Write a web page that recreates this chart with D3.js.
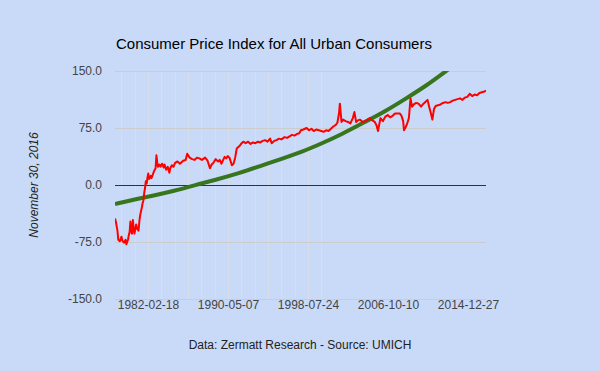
<!DOCTYPE html>
<html>
<head>
<meta charset="utf-8">
<script src="https://cdn.jsdelivr.net/npm/d3@7"></script>
<style>
  body { margin: 0; background: #c9daf8; }
  svg { display: block; font-family: Arial, "Liberation Sans", sans-serif; }
</style>
</head>
<body>
<div class="cpi_chart"></div>
<script>
//Red series: monthly index
var cpiDates = ["1978-10","1978-11","1979-01","1979-02","1979-04","1979-06","1979-07","1979-09","1979-11","1979-12",
  "1980-02","1980-03","1980-04","1980-05","1980-06","1980-07","1980-08","1980-09","1980-10","1980-12",
  "1981-01","1981-03","1981-04","1981-05","1981-07","1981-08","1981-09","1981-10","1981-11","1981-12",
  "1982-01","1982-02","1982-03","1982-04","1982-06","1982-07","1982-09","1982-10","1982-12","1983-01",
  "1983-02","1983-03","1983-05","1983-06","1983-08","1983-10","1983-11","1984-01","1984-03","1984-05",
  "1984-06","1984-08","1984-10","1984-12","1985-03","1985-06","1985-10","1986-01","1986-03","1986-06",
  "1986-09","1986-12","1987-03","1987-06","1987-09","1988-01","1988-04","1988-07","1988-09","1988-11",
  "1989-02","1989-05","1989-07","1989-09","1990-01","1990-03","1990-05","1990-07","1990-10","1990-12",
  "1991-02","1991-04","1991-06","1991-08","1991-10","1991-12","1992-03","1992-06","1992-09","1992-12",
  "1993-03","1993-06","1993-09","1993-12","1994-03","1994-06","1994-09","1994-11","1995-02","1995-05",
  "1995-08","1995-11","1996-03","1996-06","1996-09","1996-12","1997-03","1997-06","1997-09","1997-11",
  "1998-02","1998-06","1998-09","1998-12","1999-03","1999-06","1999-09","1999-12","2000-03","2000-06",
  "2000-09","2000-12","2001-03","2001-06","2001-08","2001-10","2001-11","2002-01","2002-03","2002-06",
  "2002-09","2002-12","2003-03","2003-05","2003-07","2003-09","2003-12","2004-03","2004-06","2004-09",
  "2004-12","2005-03","2005-06","2005-08","2005-10","2006-01","2006-04","2006-07","2006-10","2007-01",
  "2007-04","2007-07","2007-10","2008-01","2008-03","2008-05","2008-06","2008-08","2008-10","2008-12",
  "2009-02","2009-04","2009-06","2009-09","2009-12","2010-03","2010-06","2010-09","2010-11","2011-01",
  "2011-03","2011-05","2011-07","2011-09","2011-12","2012-03","2012-06","2012-09","2012-12","2013-03",
  "2013-06","2013-09","2013-12","2014-03","2014-06","2014-09","2014-12","2015-03","2015-06","2015-09",
  "2015-12","2016-03","2016-06","2016-09","2016-11"];
var cpiValues = [-44,-48,-60,-72,-74,-68,-73,-76,-72,-78,
  -72,-66,-62,-48,-60,-64,-46,-58,-64,-52,
  -57,-60,-48,-40,-30,-24,-20,-10,-4,5,
  2,10,15,8,12,9,15,18,22,39,
  30,24,27,24,28,23,27,20,24,16,
  22,26,24,29,31,28,32,33,41,36,
  34,33,36,35,33,36,32,22,27,29,
  34,31,33,28,37,35,38,36,26,28,
  36,48,50,52,55,57,55,57,54,56,
  55,57,56,58,59,57,61,55,58,59,
  61,60,63,62,64,66,65,67,68,72,
  73,75,72,74,71,73,72,71,70,72,
  71,74,77,79,82,95,107,83,86,84,
  83,81,88,96,83,85,86,83,84,86,
  88,85,83,79,71,88,84,90,92,89,
  91,94,94,94,91,84,72,76,81,88,
  114,103,106,108,107,103,107,110,112,103,
  95,86,100,104,105,106,108,109,108,109,
  111,112,113,114,112,115,116,120,117,119,
  118,121,122,123,124];

//Green series: trend line
var trendDates = ["1978-10","1980-10","1982-11","1984-12","1987-01","1989-01","1991-07","1993-09","1995-10",
  "1998-01","1999-11","2001-12","2004-06","2006-07","2008-08","2010-10","2012-10","2014-11","2016-11"];
var trendValues = [-25,-19,-13.5,-7.5,0,6.5,15.5,25,34,44,54,66,83,97,113.5,131,150,170,190];

//Axis ticks
var xTickLabels = ["1982-02-18","1990-05-07","1998-07-24","2006-10-10","2014-12-27"];
var yTickValues = [-150,-75,0,75,150];

var width = 600,
    height = 371;

var margin = {
  top: 71,
  bottom: 72,
  left: 115,
  right: 114
};

var parseMonth = d3.timeParse("%Y-%m");
var parseDay = d3.timeParse("%Y-%m-%d");
var yFormat = d3.formatLocale({decimal: ".", thousands: ",", grouping: [3], currency: ["$", ""], minus: "-"}).format(".1f");

var cpi = cpiDates.map(function(d, i) { return {date: parseMonth(d), value: cpiValues[i]}; });
var trend = trendDates.map(function(d, i) { return {date: parseMonth(d), value: trendValues[i]}; });
var xTicks = xTickLabels.map(parseDay);

var svg = d3.select(".cpi_chart")
            .append("svg")
            .attr("width", width)
            .attr("height", height);

svg.append("rect")
   .attr("width", width)
   .attr("height", height)
   .attr("fill", "#c9daf8");

var plotW = width - margin.left - margin.right,
    plotH = height - margin.top - margin.bottom;

var x = d3.scaleTime()
          .domain(d3.extent(cpi, function(d) { return d.date; }))
          .range([margin.left, margin.left + plotW]);

var y = d3.scaleLinear()
          .domain([-150, 150])
          .range([margin.top + plotH, margin.top]);

//Vertical gridlines every 500 days, anchored on the first labelled tick
var gridDates = d3.range(-3, 14).map(function(k) { return d3.timeDay.offset(xTicks[0], k * 500); })
                  .filter(function(d) { return d >= x.domain()[0] && d <= x.domain()[1]; });

svg.append("g")
   .selectAll("line")
   .data(gridDates)
   .enter()
   .append("line")
   .attr("x1", function(d) { return Math.round(x(d)) + 0.5; })
   .attr("x2", function(d) { return Math.round(x(d)) + 0.5; })
   .attr("y1", margin.top)
   .attr("y2", margin.top + plotH)
   .attr("stroke", "#d7deea")
   .attr("stroke-width", 1);

//Horizontal gridlines
svg.append("g")
   .selectAll("line")
   .data(yTickValues.filter(function(v) { return v !== 0; }))
   .enter()
   .append("line")
   .attr("x1", margin.left)
   .attr("x2", margin.left + plotW)
   .attr("y1", function(d) { return Math.round(y(d)) + 0.5; })
   .attr("y2", function(d) { return Math.round(y(d)) + 0.5; })
   .attr("stroke", "#cccccc");

//Zero baseline
svg.append("line")
   .attr("x1", margin.left)
   .attr("x2", margin.left + plotW)
   .attr("y1", Math.round(y(0)) + 0.5)
   .attr("y2", Math.round(y(0)) + 0.5)
   .attr("stroke", "#333333");

//Y axis labels
var yAxis = svg.append("g")
   .attr("transform", "translate(" + margin.left + ",0)")
   .call(d3.axisLeft(y).tickValues(yTickValues).tickFormat(yFormat).tickSize(0).tickPadding(13));
yAxis.select(".domain").remove();
yAxis.selectAll("text").attr("font-size", 12).attr("fill", "#444444").attr("font-family", null);

//X axis labels
var xAxis = svg.append("g")
   .attr("transform", "translate(0," + (margin.top + plotH) + ")")
   .call(d3.axisBottom(x).tickValues(xTicks).tickFormat(d3.timeFormat("%Y-%m-%d")).tickSize(0).tickPadding(1));
xAxis.select(".domain").remove();
xAxis.selectAll("text").attr("font-size", 12).attr("fill", "#444444").attr("font-family", null);

//Clip the series to the plot area
svg.append("clipPath")
   .attr("id", "plotClip")
   .append("rect")
   .attr("x", margin.left)
   .attr("y", margin.top)
   .attr("width", plotW)
   .attr("height", plotH);

var line = d3.line()
             .x(function(d) { return x(d.date); })
             .y(function(d) { return y(d.value); });

svg.append("path")
   .datum(trend)
   .attr("clip-path", "url(#plotClip)")
   .attr("fill", "none")
   .attr("stroke", "#38761d")
   .attr("stroke-width", 4)
   .attr("d", line.curve(d3.curveBasis));

svg.append("path")
   .datum(cpi)
   .attr("clip-path", "url(#plotClip)")
   .attr("fill", "none")
   .attr("stroke", "#ff0000")
   .attr("stroke-width", 2)
   .attr("stroke-linejoin", "round")
   .attr("d", line.curve(d3.curveLinear));

//Title
svg.append("text")
   .attr("x", 116)
   .attr("y", 49)
   .attr("font-size", 15)
   .attr("fill", "#000000")
   .text("Consumer Price Index for All Urban Consumers");

//Vertical axis title
svg.append("text")
   .attr("transform", "translate(37.5," + y(0) + ") rotate(-90)")
   .attr("text-anchor", "middle")
   .attr("font-size", 12)
   .attr("font-style", "italic")
   .attr("fill", "#222222")
   .text("November 30, 2016");

//Source caption
svg.append("text")
   .attr("x", width / 2)
   .attr("y", 349)
   .attr("text-anchor", "middle")
   .attr("font-size", 12)
   .attr("fill", "#222222")
   .text("Data: Zermatt Research - Source: UMICH");
</script>
</body>
</html>
